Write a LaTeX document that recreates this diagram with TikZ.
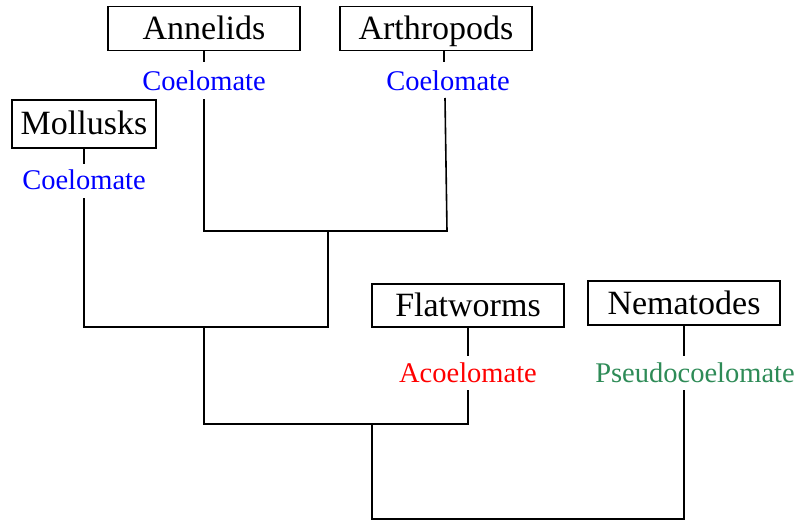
\documentclass[tikz,border=0pt]{standalone}
\usepackage{fontspec}
\setmainfont{Liberation Serif}
\definecolor{coelo}{RGB}{0,0,255}
\definecolor{acoelo}{RGB}{255,0,0}
\definecolor{pseudo}{RGB}{46,139,87}
\tikzset{
  taxon/.style={draw, line width=1.6pt, minimum width=192pt, minimum height=44pt,
    inner xsep=7pt, inner ysep=0pt, text height=26pt, text depth=4pt,
    font=\fontsize{34}{38}\selectfont},
  cavity/.style={inner sep=8pt, text height=18pt, text depth=0pt,
    font=\fontsize{28.5}{32}\selectfont},
  branch/.style={line width=1.6pt}
}
\begin{document}
\begin{tikzpicture}[x=1pt,y=-1pt]
\useasboundingbox (0,0) rectangle (803,521);

% taxa
\node[taxon] (ann) at (204,28.5) {Annelids};
\node[taxon] (art) at (436,28.5) {Arthropods};
\node[taxon, minimum width=144pt, minimum height=48pt] (mol) at (84,124) {Mollusks};
\node[taxon, minimum height=43pt] (fla) at (468,305.5) {Flatworms};
\node[taxon] (nem) at (684,303) {Nematodes};

% body cavity labels
\node[cavity, text=coelo] (annc) at (204,82) {Coelomate};
\node[cavity, text=coelo] (artc) at (448,82) {Coelomate};
\node[cavity, text=coelo] (molc) at (84,181) {Coelomate};
\node[cavity, text=acoelo] (flac) at (468,373) {Acoelomate};
\node[cavity, text=pseudo] (nemc) at (695,373) {Pseudocoelomate};

% arthropod stem, slightly off the box centre
\coordinate (artTop) at (444,51);
\coordinate (artMid) at (444,62);
\coordinate (artLow) at (445,98);
\coordinate (artFoot) at (447,231);

% junctions
\coordinate (j1) at (328,231);
\coordinate (j2) at (204,327);
\coordinate (j3) at (372,424);
\coordinate (j4) at (528,519);

% stubs between boxes and labels
\draw[branch] (ann.south) -- (ann.south |- artMid);
\draw[branch] (artTop) -- (artMid);
\draw[branch] (mol.south) -- (molc.north);
\draw[branch] (fla.south) -- (fla.south |- flac.north);
\draw[branch] (nem.south) -- (nem.south |- nemc.north);

% tree
\draw[branch] (annc.south) |- (j1) -- (artFoot) -- (artLow);
\draw[branch] (j1) |- (molc.south |- j2) -- (molc.south);
\draw[branch] (j2) |- (fla.south |- j3) -- (fla.south |- flac.south);
\draw[branch] (j3) |- (nem.south |- j4) -- (nem.south |- nemc.south);
\end{tikzpicture}
\end{document}
